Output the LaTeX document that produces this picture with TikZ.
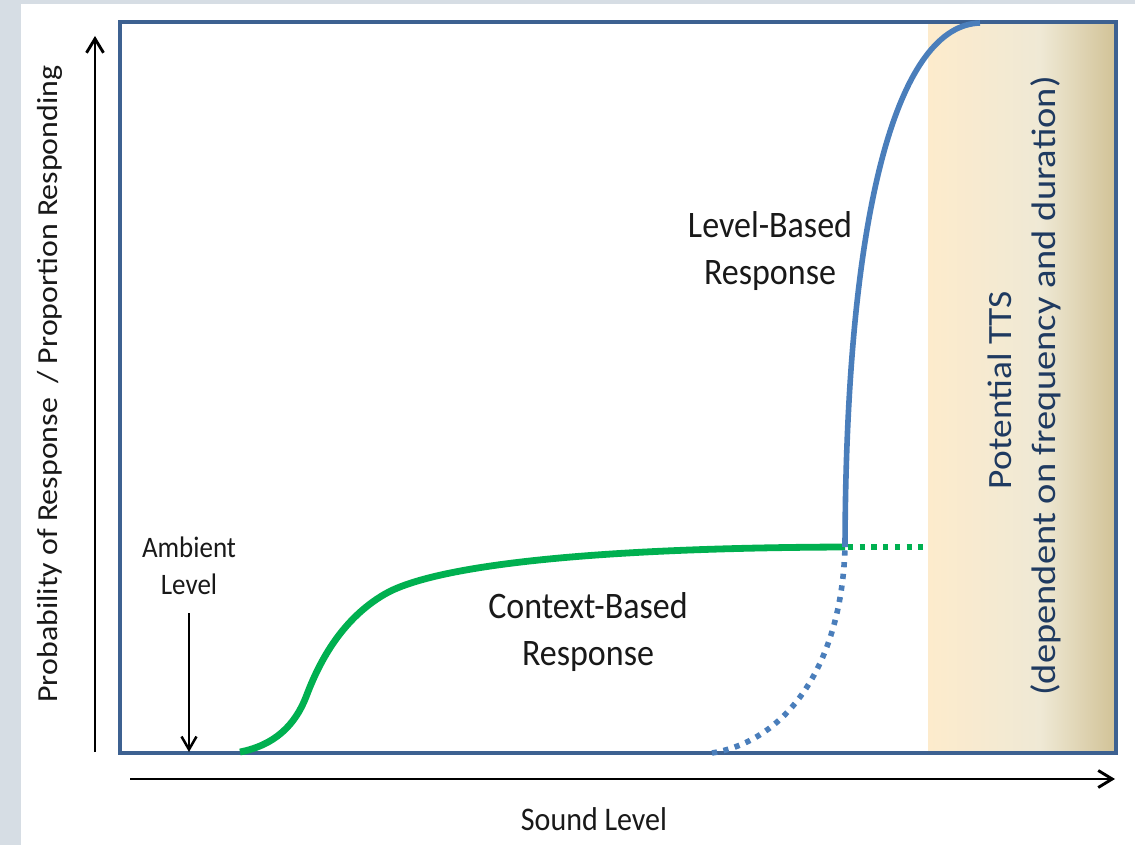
\documentclass[tikz,border=0pt]{standalone}
\usepackage{fontspec}
\setmainfont{Carlito}
\usetikzlibrary{arrows.meta}
\definecolor{frameblue}{RGB}{61,97,145}
\definecolor{curveblue}{RGB}{74,126,187}
\definecolor{curvegreen}{RGB}{0,176,80}
\definecolor{bgstrip}{RGB}{214,221,228}
\definecolor{ttsL}{RGB}{253,235,204}
\definecolor{ttsM}{RGB}{239,233,213}
\definecolor{ttsR}{RGB}{210,195,152}
\definecolor{ttstext}{RGB}{31,58,96}
\definecolor{txt}{RGB}{25,25,25}
\tikzset{
  axisline/.style={line width=2.9pt, black, -{Straight Barb[length=14pt,width=17pt,line width=2.9pt]}},
  ambarrow/.style={line width=2.5pt, black, -{Straight Barb[length=13pt,width=15pt,line width=2.5pt]}},
  bluesolid/.style={curveblue, line width=5.6pt},
  bluedot/.style={curveblue, line width=5.6pt, dash pattern=on 5.2pt off 6.5pt},
  greensolid/.style={curvegreen, line width=6.8pt},
  greendot/.style={curvegreen, line width=6.4pt, dash pattern=on 5.2pt off 6.5pt},
  lbl/.style={inner sep=0pt, text=txt, align=center, yscale=1.1},
  rlbl/.style={inner sep=0pt, align=center, rotate=90, xscale=1.1},
}
\begin{document}
\begin{tikzpicture}[x=1pt,y=-1pt]
\useasboundingbox (0,0) rectangle (1135,845);
\fill[white] (0,0) rectangle (1135,845);
\fill[bgstrip] (0,0) rectangle (1135,4);
\fill[bgstrip] (0,0) rectangle (21,845);
% TTS band
\shade[left color=ttsL, right color=ttsM] (928,25) rectangle (1041,752);
\shade[left color=ttsM, right color=ttsR] (1040,25) rectangle (1114,752);
% frame
\draw[frameblue, line width=4.6pt] (120,22) rectangle (1116,753);
% axes
\coordinate (yaxB) at (95,752);
\coordinate (yaxT) at (95,36);
\coordinate (xaxL) at (130,779);
\coordinate (xaxR) at (1115,779);
\draw[axisline] (yaxB) -- (yaxT);
\draw[axisline] (xaxL) -- (xaxR);
% curves
\coordinate (gStart) at (240,752);
\coordinate (gA) at (306,697);
\coordinate (gB) at (385,594);
\coordinate (meet) at (845,547);
\coordinate (gEnd) at (924,547);
\coordinate (bStart) at (712,753);
\coordinate (bTop) at (980,23);
\draw[greensolid] (gStart) .. controls (275,745) and (295,725) .. (gA)
  .. controls (318,665) and (340,620) .. (gB)
  .. controls (430,568) and (570,548) .. (meet);
\draw[greendot] (meet) ++(3,0) -- (gEnd);
\draw[bluedot] (bStart) .. controls (790,740) and (842,660) .. (meet);
\draw[bluesolid] (meet) .. controls (846,200) and (900,25) .. (bTop);
% labels
\node[lbl, font=\fontsize{34}{42}\selectfont] (lvl) at (770,251) {Level-Based\\Response};
\node[lbl, font=\fontsize{34}{42}\selectfont] (ctx) at (588,632) {Context-Based\\Response};
\node[lbl, font=\fontsize{27}{33.6}\selectfont] (amb) at (189,566) {Ambient\\Level};
\coordinate (ambTop) at (189,613);
\coordinate (ambBot) at (189,752);
\draw[ambarrow] (ambTop) -- (ambBot);
\node[lbl, font=\fontsize{30}{36}\selectfont, anchor=base] (snd) at (594,830) {Sound Level};
\node[rlbl, text=txt, font=\fontsize{29}{35}\selectfont] (ylab) at (50,384) {Probability of Response~~/ Proportion Responding};
\node[rlbl, text=ttstext, font=\fontsize{34}{40}\selectfont] (tts) at (1000,390) {Potential TTS};
\node[rlbl, text=ttstext, font=\fontsize{34}{40}\selectfont, xscale=1.03] (dep) at (1046,386) {(dependent on frequency and duration)};
\end{tikzpicture}
\end{document}
